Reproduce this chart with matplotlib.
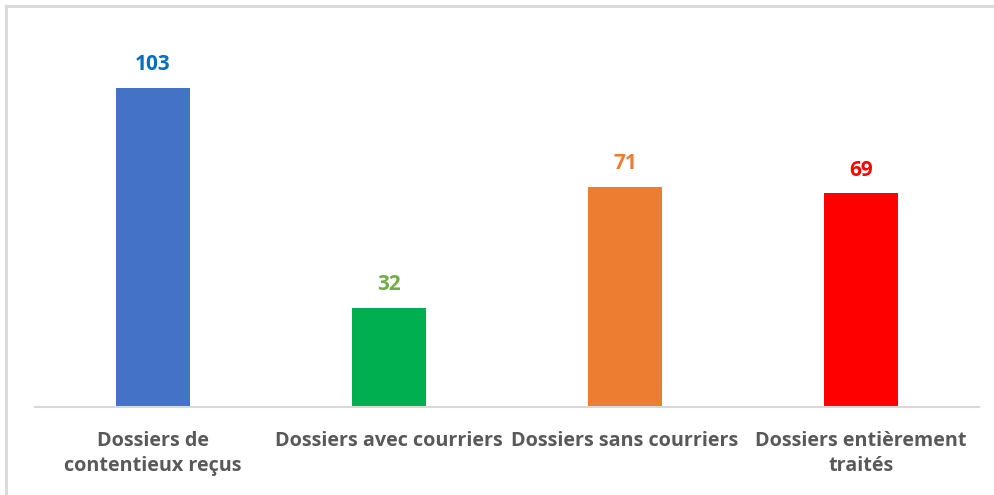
import matplotlib
matplotlib.use("Agg")
import matplotlib.pyplot as plt
from matplotlib.lines import Line2D

categories = ["Dossiers de\ncontentieux reçus", "Dossiers avec courriers",
              "Dossiers sans courriers", "Dossiers entièrement\ntraités"]
values = [103, 32, 71, 69]
bar_colors = ["#4472C4", "#00B050", "#ED7D31", "#FF0000"]
label_colors = ["#0070C0", "#70AD47", "#ED7D31", "#FF0000"]

fig = plt.figure(figsize=(9.95, 4.95), dpi=100)
ax = fig.add_axes([35/995, 1-407/495, 944/995, (407-35)/495])

x = range(len(values))
ax.bar(x, values, width=0.314, color=bar_colors, zorder=2)
ax.set_xlim(-0.5, len(values)-0.5)
ax.set_ylim(0, 120)

for i, (v, c) in enumerate(zip(values, label_colors)):
    ax.annotate(str(v), (i, v), xytext=(0, 9), textcoords="offset points",
                ha="center", va="bottom", color=c, fontsize=15,
                fontweight="bold", family="Open Sans")

ax.set_xticks(list(x))
ax.set_xticklabels(categories, fontsize=14.2, fontweight="bold",
                   color="#595959", family="Open Sans", linespacing=1.35)
ax.tick_params(axis="x", length=0, pad=17)
ax.set_yticks([])
for s in ["top", "right", "left"]:
    ax.spines[s].set_visible(False)
ax.spines["bottom"].set_color("#D9D9D9")
ax.spines["bottom"].set_linewidth(1.5)

# outer frame (top and left edges visible)
fig.add_artist(Line2D([6/995, 6/995], [0, 1-6/495], transform=fig.transFigure,
                      color="#D9D9D9", lw=2))
fig.add_artist(Line2D([6/995, 1], [1-6/495, 1-6/495], transform=fig.transFigure,
                      color="#D9D9D9", lw=2))

fig.savefig("out.png", dpi=100)
